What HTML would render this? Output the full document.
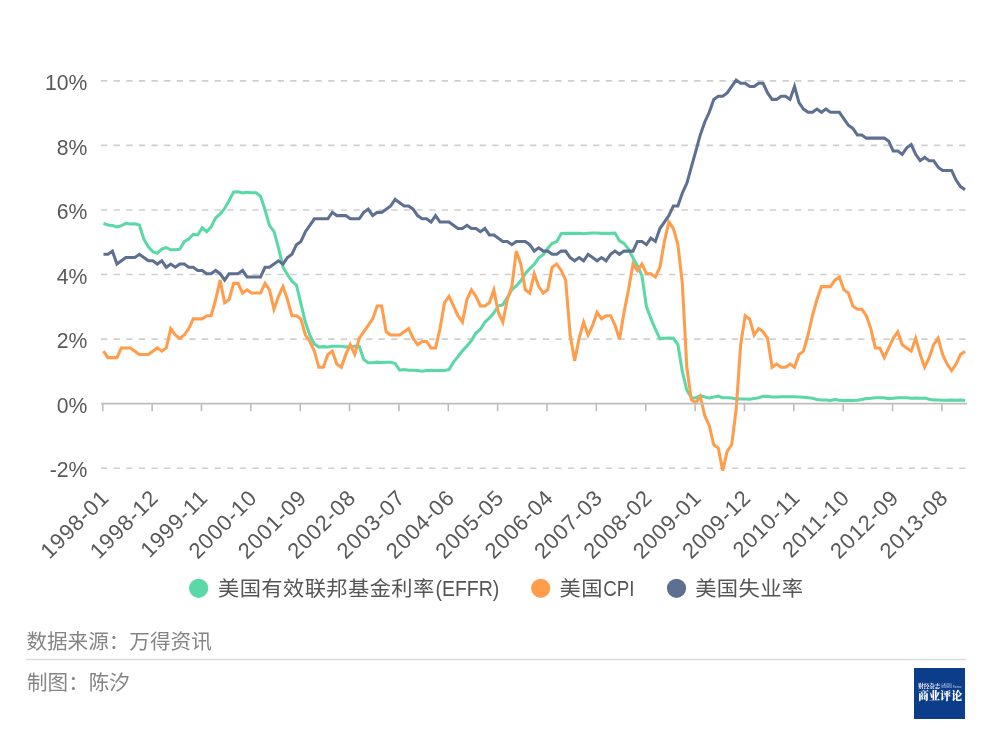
<!DOCTYPE html>
<html lang="zh-CN">
<head>
<meta charset="utf-8">
<title>美国有效联邦基金利率、CPI与失业率</title>
<style>
html,body{margin:0;padding:0;background:#fff;}
body{width:993px;height:741px;overflow:hidden;font-family:"Liberation Sans", "Noto Sans CJK SC", sans-serif;}
svg{display:block;}
svg text{font-family:"Liberation Sans", "Noto Sans CJK SC", sans-serif;}
.ax{font-size:22px;fill:#595959;}
.xl{letter-spacing:0.75px;}
.lg{font-size:21.8px;fill:#555;}
.ft{font-size:20.6px;fill:#858585;}
</style>
</head>
<body>
<svg width="993" height="741" viewBox="0 0 993 741">
<rect width="993" height="741" fill="#ffffff"/>

<g stroke="#cfcfcf" stroke-width="1.6" stroke-dasharray="6.3 6.32" fill="none">
<line x1="101" y1="80.86" x2="966" y2="80.86"/>
<line x1="101" y1="145.42" x2="966" y2="145.42"/>
<line x1="101" y1="209.98" x2="966" y2="209.98"/>
<line x1="101" y1="274.54" x2="966" y2="274.54"/>
<line x1="101" y1="339.10" x2="966" y2="339.10"/>
<line x1="101" y1="468.22" x2="966" y2="468.22"/>
</g>
<g class="ax" text-anchor="end">
<text transform="translate(87.4,89.96) scale(0.963,1)">10%</text>
<text transform="translate(87.4,154.52) scale(0.963,1)">8%</text>
<text transform="translate(87.4,219.08) scale(0.963,1)">6%</text>
<text transform="translate(87.4,283.64) scale(0.963,1)">4%</text>
<text transform="translate(87.4,348.20) scale(0.963,1)">2%</text>
<text transform="translate(87.4,412.76) scale(0.963,1)">0%</text>
<text transform="translate(87.4,477.32) scale(0.963,1)">-2%</text>
</g>
<polyline fill="none" stroke="#5AD8A6" stroke-width="3.05" stroke-linejoin="miter" stroke-miterlimit="4" stroke-linecap="butt" points="103.46,223.34 107.95,224.96 112.43,225.60 116.92,226.89 121.41,225.60 125.90,223.34 130.38,223.99 134.87,223.67 139.36,224.96 143.85,239.16 148.33,246.91 152.82,251.75 157.31,253.36 161.80,249.17 166.28,247.55 170.77,249.81 175.26,249.81 179.75,249.17 184.23,241.74 188.72,239.16 193.21,234.32 197.70,234.96 202.18,227.86 206.67,231.74 211.16,226.89 215.64,217.86 220.13,213.98 224.62,208.49 229.11,200.42 233.59,192.03 238.08,191.71 242.57,193.00 247.06,192.35 251.54,192.68 256.03,192.68 260.52,196.23 265.01,209.79 269.49,225.60 273.98,231.41 278.47,247.88 282.96,266.92 287.44,274.67 291.93,281.12 296.42,285.00 300.91,303.72 305.39,322.44 309.88,335.35 314.37,344.07 318.86,346.98 323.34,346.65 327.83,346.98 332.32,346.33 336.80,346.33 341.29,346.33 345.78,346.98 350.27,346.65 354.75,346.33 359.24,346.33 363.73,359.56 368.22,362.79 372.70,362.79 377.19,362.15 381.68,362.47 386.17,362.15 390.65,362.15 395.14,363.44 399.63,370.22 404.12,369.57 408.60,370.22 413.09,370.22 417.58,370.54 422.07,371.19 426.55,370.54 431.04,370.22 435.53,370.54 440.01,370.54 444.50,370.54 448.99,369.57 453.48,362.15 457.96,356.66 462.45,350.85 466.94,346.01 471.43,340.52 475.91,333.10 480.40,329.22 484.89,322.12 489.38,317.92 493.86,312.76 498.35,305.98 502.84,304.69 507.33,297.59 511.81,289.84 516.30,285.97 520.79,280.80 525.28,273.70 529.76,268.54 534.25,264.34 538.74,257.88 543.23,254.65 547.71,248.20 552.20,243.36 556.69,241.74 561.17,233.67 565.66,233.35 570.15,233.35 574.64,233.35 579.12,233.35 583.61,233.67 588.10,233.35 592.59,233.03 597.07,233.03 601.56,233.35 606.05,233.35 610.54,233.35 615.02,233.03 619.51,240.77 624.00,243.36 628.49,249.17 632.97,257.88 637.46,265.95 641.95,275.64 646.44,306.63 650.92,318.57 655.41,329.22 659.90,338.91 664.38,338.26 668.87,337.94 673.36,338.26 677.85,344.39 682.33,371.51 686.82,390.23 691.31,397.66 695.80,397.98 700.28,395.72 704.77,397.01 709.26,397.98 713.75,397.01 718.23,396.04 722.72,397.66 727.21,397.66 731.70,397.98 736.18,398.95 740.67,398.95 745.16,398.95 749.65,399.27 754.13,398.62 758.62,397.66 763.11,396.36 767.60,396.36 772.08,397.01 776.57,397.01 781.06,396.69 785.54,396.69 790.03,396.69 794.52,396.69 799.01,397.01 803.49,397.33 807.98,397.66 812.47,398.30 816.96,399.59 821.44,399.91 825.93,399.91 830.42,400.56 834.91,399.59 839.39,400.24 843.88,400.56 848.37,400.24 852.86,400.56 857.34,400.24 861.83,399.59 866.32,398.62 870.81,398.30 875.29,397.66 879.78,397.66 884.27,397.66 888.75,398.62 893.24,398.30 897.73,397.66 902.22,397.66 906.70,397.66 911.19,398.30 915.68,397.98 920.17,398.30 924.65,397.98 929.14,399.27 933.63,399.91 938.12,399.91 942.60,400.24 947.09,400.24 951.58,399.91 956.07,400.24 960.55,399.91 965.04,400.56"/>
<polyline fill="none" stroke="#FF9D4D" stroke-width="3.05" stroke-linejoin="miter" stroke-miterlimit="4" stroke-linecap="butt" points="103.46,351.17 107.95,357.63 112.43,357.63 116.92,357.63 121.41,347.94 125.90,347.94 130.38,347.94 134.87,351.17 139.36,354.40 143.85,354.40 148.33,354.40 152.82,351.17 157.31,347.94 161.80,351.17 166.28,347.94 170.77,328.58 175.26,335.03 179.75,338.26 184.23,335.03 188.72,328.58 193.21,318.89 197.70,318.89 202.18,318.89 206.67,315.66 211.16,315.66 215.64,299.52 220.13,280.16 224.62,302.75 229.11,299.52 233.59,283.38 238.08,283.38 242.57,293.07 247.06,289.84 251.54,293.07 256.03,293.07 260.52,293.07 265.01,283.38 269.49,289.84 273.98,309.21 278.47,296.30 282.96,286.61 287.44,299.52 291.93,315.66 296.42,315.66 300.91,318.89 305.39,335.03 309.88,341.49 314.37,351.17 318.86,367.31 323.34,367.31 327.83,354.40 332.32,351.17 336.80,364.08 341.29,367.31 345.78,354.40 350.27,344.72 354.75,354.40 359.24,338.26 363.73,331.80 368.22,325.35 372.70,318.89 377.19,305.98 381.68,305.98 386.17,331.80 390.65,335.03 395.14,335.03 399.63,335.03 404.12,331.80 408.60,328.58 413.09,338.26 417.58,344.72 422.07,341.49 426.55,341.49 431.04,347.94 435.53,347.94 440.01,328.58 444.50,302.75 448.99,296.30 453.48,305.98 457.96,315.66 462.45,322.12 466.94,299.52 471.43,289.84 475.91,296.30 480.40,305.98 484.89,305.98 489.38,302.75 493.86,289.84 498.35,312.44 502.84,322.12 507.33,299.52 511.81,286.61 516.30,251.10 520.79,264.02 525.28,289.84 529.76,293.07 534.25,273.70 538.74,286.61 543.23,293.07 547.71,289.84 552.20,267.24 556.69,264.02 561.17,270.47 565.66,280.16 570.15,335.03 574.64,360.86 579.12,338.26 583.61,322.12 588.10,335.03 592.59,325.35 597.07,312.44 601.56,318.89 606.05,315.66 610.54,315.66 615.02,325.35 619.51,339.23 624.00,312.44 628.49,289.84 632.97,264.02 637.46,270.47 641.95,264.02 646.44,273.70 650.92,273.70 655.41,276.93 659.90,267.24 664.38,241.42 668.87,222.05 673.36,228.51 677.85,244.65 682.33,283.38 686.82,367.31 691.31,399.59 695.80,402.82 700.28,396.36 704.77,415.73 709.26,425.42 713.75,444.78 718.23,448.01 722.72,470.61 727.21,451.24 731.70,444.78 736.18,409.28 740.67,344.72 745.16,315.66 749.65,318.89 754.13,335.03 758.62,328.58 763.11,331.80 767.60,338.26 772.08,367.31 776.57,364.08 781.06,367.31 785.54,367.31 790.03,364.08 794.52,367.31 799.01,354.40 803.49,351.17 807.98,335.03 812.47,315.66 816.96,299.52 821.44,286.61 825.93,286.61 830.42,286.61 834.91,280.16 839.39,276.93 843.88,289.84 848.37,293.07 852.86,305.98 857.34,309.21 861.83,309.21 866.32,315.66 870.81,328.58 875.29,347.94 879.78,347.94 884.27,357.63 888.75,347.94 893.24,338.26 897.73,331.80 902.22,344.72 906.70,347.94 911.19,351.17 915.68,338.26 920.17,354.40 924.65,367.31 929.14,357.63 933.63,344.72 938.12,338.26 942.60,354.40 947.09,364.08 951.58,370.54 956.07,364.08 960.55,354.40 965.04,351.17"/>
<polyline fill="none" stroke="#5D7092" stroke-width="3.05" stroke-linejoin="miter" stroke-miterlimit="4" stroke-linecap="butt" points="103.46,254.33 107.95,254.33 112.43,251.10 116.92,264.02 121.41,260.79 125.90,257.56 130.38,257.56 134.87,257.56 139.36,254.33 143.85,257.56 148.33,260.79 152.82,260.79 157.31,264.02 161.80,260.79 166.28,267.24 170.77,264.02 175.26,267.24 179.75,264.02 184.23,264.02 188.72,267.24 193.21,267.24 197.70,270.47 202.18,270.47 206.67,273.70 211.16,273.70 215.64,270.47 220.13,273.70 224.62,280.16 229.11,273.70 233.59,273.70 238.08,273.70 242.57,270.47 247.06,276.93 251.54,276.93 256.03,276.93 260.52,276.93 265.01,267.24 269.49,267.24 273.98,264.02 278.47,260.79 282.96,264.02 287.44,257.56 291.93,254.33 296.42,244.65 300.91,241.42 305.39,231.74 309.88,225.28 314.37,218.82 318.86,218.82 323.34,218.82 327.83,218.82 332.32,212.37 336.80,215.60 341.29,215.60 345.78,215.60 350.27,218.82 354.75,218.82 359.24,218.82 363.73,212.37 368.22,209.14 372.70,215.60 377.19,212.37 381.68,212.37 386.17,209.14 390.65,205.91 395.14,199.46 399.63,202.68 404.12,205.91 408.60,205.91 413.09,209.14 417.58,215.60 422.07,218.82 426.55,218.82 431.04,222.05 435.53,215.60 440.01,222.05 444.50,222.05 448.99,222.05 453.48,225.28 457.96,228.51 462.45,228.51 466.94,225.28 471.43,228.51 475.91,228.51 480.40,231.74 484.89,228.51 489.38,234.96 493.86,234.96 498.35,238.19 502.84,241.42 507.33,241.42 511.81,244.65 516.30,241.42 520.79,241.42 525.28,241.42 529.76,244.65 534.25,251.10 538.74,247.88 543.23,251.10 547.71,251.10 552.20,254.33 556.69,254.33 561.17,251.10 565.66,251.10 570.15,257.56 574.64,260.79 579.12,257.56 583.61,260.79 588.10,254.33 592.59,257.56 597.07,260.79 601.56,257.56 606.05,260.79 610.54,254.33 615.02,251.10 619.51,254.33 624.00,251.10 628.49,251.10 632.97,251.10 637.46,241.42 641.95,241.42 646.44,244.65 650.92,238.19 655.41,241.42 659.90,228.51 664.38,222.05 668.87,215.60 673.36,205.91 677.85,205.91 682.33,193.00 686.82,183.32 691.31,167.18 695.80,151.04 700.28,134.90 704.77,121.98 709.26,112.30 713.75,99.39 718.23,96.16 722.72,96.16 727.21,92.93 731.70,86.48 736.18,80.02 740.67,83.25 745.16,83.25 749.65,86.48 754.13,86.48 758.62,83.25 763.11,83.25 767.60,92.93 772.08,99.39 776.57,99.39 781.06,96.16 785.54,96.16 790.03,99.39 794.52,86.48 799.01,102.62 803.49,109.07 807.98,112.30 812.47,112.30 816.96,109.07 821.44,112.30 825.93,109.07 830.42,112.30 834.91,112.30 839.39,112.30 843.88,118.76 848.37,125.21 852.86,128.44 857.34,134.90 861.83,134.90 866.32,138.12 870.81,138.12 875.29,138.12 879.78,138.12 884.27,138.12 888.75,141.35 893.24,151.04 897.73,151.04 902.22,154.26 906.70,147.81 911.19,144.58 915.68,154.26 920.17,160.72 924.65,157.49 929.14,160.72 933.63,160.72 938.12,167.18 942.60,170.40 947.09,170.40 951.58,170.40 956.07,180.09 960.55,186.54 965.04,189.77"/>
<g stroke="#bdbdbd" stroke-width="1.6" fill="none"><line x1="101.2" y1="403.66" x2="967" y2="403.66"/>
<line x1="102.76" y1="403.66" x2="102.76" y2="411.26"/>
<line x1="152.12" y1="403.66" x2="152.12" y2="411.26"/>
<line x1="201.48" y1="403.66" x2="201.48" y2="411.26"/>
<line x1="250.84" y1="403.66" x2="250.84" y2="411.26"/>
<line x1="300.21" y1="403.66" x2="300.21" y2="411.26"/>
<line x1="349.57" y1="403.66" x2="349.57" y2="411.26"/>
<line x1="398.93" y1="403.66" x2="398.93" y2="411.26"/>
<line x1="448.29" y1="403.66" x2="448.29" y2="411.26"/>
<line x1="497.65" y1="403.66" x2="497.65" y2="411.26"/>
<line x1="547.01" y1="403.66" x2="547.01" y2="411.26"/>
<line x1="596.37" y1="403.66" x2="596.37" y2="411.26"/>
<line x1="645.74" y1="403.66" x2="645.74" y2="411.26"/>
<line x1="695.10" y1="403.66" x2="695.10" y2="411.26"/>
<line x1="744.46" y1="403.66" x2="744.46" y2="411.26"/>
<line x1="793.82" y1="403.66" x2="793.82" y2="411.26"/>
<line x1="843.18" y1="403.66" x2="843.18" y2="411.26"/>
<line x1="892.54" y1="403.66" x2="892.54" y2="411.26"/>
<line x1="941.90" y1="403.66" x2="941.90" y2="411.26"/>
</g>
<g class="ax xl" text-anchor="end">
<text transform="translate(110.39,499.13) rotate(-45)">1998-01</text>
<text transform="translate(159.75,499.13) rotate(-45)">1998-12</text>
<text transform="translate(209.11,499.13) rotate(-45)">1999-11</text>
<text transform="translate(258.47,499.13) rotate(-45)">2000-10</text>
<text transform="translate(307.84,499.13) rotate(-45)">2001-09</text>
<text transform="translate(357.20,499.13) rotate(-45)">2002-08</text>
<text transform="translate(406.56,499.13) rotate(-45)">2003-07</text>
<text transform="translate(455.92,499.13) rotate(-45)">2004-06</text>
<text transform="translate(505.28,499.13) rotate(-45)">2005-05</text>
<text transform="translate(554.64,499.13) rotate(-45)">2006-04</text>
<text transform="translate(604.00,499.13) rotate(-45)">2007-03</text>
<text transform="translate(653.37,499.13) rotate(-45)">2008-02</text>
<text transform="translate(702.73,499.13) rotate(-45)">2009-01</text>
<text transform="translate(752.09,499.13) rotate(-45)">2009-12</text>
<text transform="translate(801.45,499.13) rotate(-45)">2010-11</text>
<text transform="translate(850.81,499.13) rotate(-45)">2011-10</text>
<text transform="translate(900.17,499.13) rotate(-45)">2012-09</text>
<text transform="translate(949.53,499.13) rotate(-45)">2013-08</text>
</g>
<g class="lg">
<circle cx="198.6" cy="588.3" r="9.6" fill="#5AD8A6"/><text transform="translate(217.95,596.0) scale(1.038,1)" font-size="20.5" letter-spacing="0.4">美国有效联邦基金利率</text><text x="435.4" y="596.2" textLength="63.9" lengthAdjust="spacingAndGlyphs">(EFFR)</text>
<circle cx="540.7" cy="588.3" r="9.6" fill="#FF9D4D"/><text transform="translate(559.55,596.0) scale(1.038,1)" font-size="20.5" letter-spacing="0.4">美国</text><text x="603.3" y="596.2" textLength="31.3" lengthAdjust="spacingAndGlyphs">CPI</text>
<circle cx="676.5" cy="588.3" r="9.6" fill="#5D7092"/><text transform="translate(695.15,596.0) scale(1.038,1)" font-size="20.5" letter-spacing="0.4">美国失业率</text>
</g>
<g class="ft">
<text x="26.4" y="648.6">数据来源：万得资讯</text>
<text x="27" y="690.3">制图：陈汐</text>
</g>
<line x1="26" y1="659.5" x2="966" y2="659.5" stroke="#dcdcdc" stroke-width="1.5"/>
<g>
<rect x="914" y="668" width="51" height="51" fill="#0b3d8b"/>
<text x="918.2" y="687.5" font-size="5.5" font-weight="700" fill="#ffffff" style="font-family:'Liberation Serif','Noto Serif CJK SC',serif">财经杂志</text>
<line x1="925" y1="682.8" x2="922" y2="687.6" stroke="#e23b3b" stroke-width="0.6" opacity="0.85"/>
<g transform="translate(941.6,0) scale(0.25)" fill="#c3cfe8" style="font-family:'Liberation Sans',sans-serif" font-size="10.4">
<text x="0" y="2743.6">CAIJING</text>
<text x="0" y="2752.6">Business Review</text>
</g>
<text x="917.9" y="700.4" font-size="11.1" font-weight="900" fill="#ffffff" style="font-family:'Liberation Serif','Noto Serif CJK SC',serif">商业评论</text>
</g>
</svg>
</body>
</html>
